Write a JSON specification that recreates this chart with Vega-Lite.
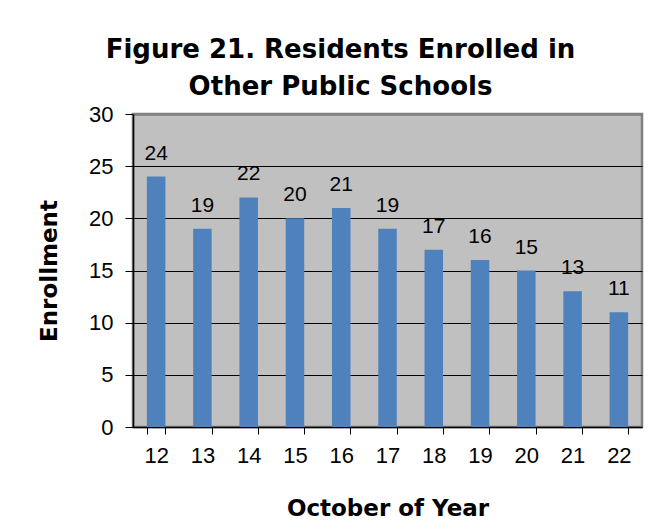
{
  "$schema": "https://vega.github.io/schema/vega-lite/v6.json",
  "autosize": {"type": "none"},
  "width": 509,
  "height": 313,
  "padding": {"left": 133, "top": 114, "right": 26, "bottom": 102},
  "background": "white",
  "title": {
    "text": ["Figure 21. Residents Enrolled in", "Other Public Schools"],
    "font": "DejaVu Sans",
    "fontSize": 26,
    "fontWeight": "bold",
    "color": "black",
    "anchor": "middle",
    "dx": -47,
    "lineHeight": 37,
    "offset": 3
  },
  "config": {
    "view": {"fill": "#C0C0C0", "stroke": "#808080", "strokeWidth": 2.5}
  },
  "data": {
    "values": [
      {"year": "12", "enrollment": 24},
      {"year": "13", "enrollment": 19},
      {"year": "14", "enrollment": 22},
      {"year": "15", "enrollment": 20},
      {"year": "16", "enrollment": 21},
      {"year": "17", "enrollment": 19},
      {"year": "18", "enrollment": 17},
      {"year": "19", "enrollment": 16},
      {"year": "20", "enrollment": 15},
      {"year": "21", "enrollment": 13},
      {"year": "22", "enrollment": 11}
    ]
  },
  "encoding": {
    "x": {
      "field": "year",
      "type": "ordinal",
      "scale": {"paddingInner": 0.6, "paddingOuter": 0.3},
      "axis": {
        "title": "October of Year",
        "titleFont": "DejaVu Sans",
        "titleFontSize": 23,
        "titleFontWeight": "bold",
        "titleColor": "black",
        "titlePadding": 31,
        "labelAngle": 0,
        "labelFont": "Liberation Sans",
        "labelFontSize": 22,
        "labelColor": "black",
        "labelPadding": 11,
        "tickBand": "extent",
        "tickSize": 7,
        "tickColor": "black",
        "domainColor": "black",
        "domainWidth": 1.5,
        "grid": false
      }
    },
    "y": {
      "field": "enrollment",
      "type": "quantitative",
      "scale": {"domain": [0, 30]},
      "axis": {
        "title": "Enrollment",
        "titleFont": "DejaVu Sans",
        "titleFontSize": 23,
        "titleFontWeight": "bold",
        "titleColor": "black",
        "titlePadding": 27,
        "values": [0, 5, 10, 15, 20, 25, 30],
        "labelFont": "Liberation Sans",
        "labelFontSize": 22,
        "labelColor": "black",
        "labelPadding": 12,
        "tickSize": 8,
        "tickColor": "black",
        "domainColor": "black",
        "domainWidth": 1.5,
        "grid": true,
        "gridColor": {"condition": {"test": "datum.value === 30", "value": "#808080"}, "value": "black"},
        "gridWidth": {"condition": {"test": "datum.value === 30", "value": 2.5}, "value": 1},
        "gridOpacity": 1
      }
    }
  },
  "layer": [
    {"mark": {"type": "bar", "color": "#4F81BD"}},
    {
      "mark": {"type": "text", "baseline": "bottom", "dy": -13, "font": "Liberation Sans", "fontSize": 21, "color": "black"},
      "encoding": {"text": {"field": "enrollment", "type": "quantitative"}}
    }
  ]
}
